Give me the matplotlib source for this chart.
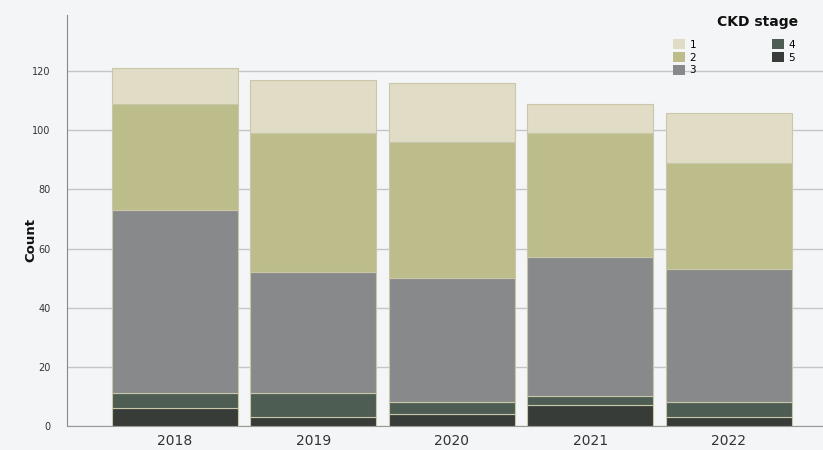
import matplotlib
matplotlib.use("Agg")
import matplotlib.pyplot as plt
import numpy as np

years = ["2018", "2019", "2020", "2021", "2022"]
stages = ["1", "2", "3", "4", "5"]
stage1 = [12, 18, 20, 10, 17]
stage2 = [36, 47, 46, 42, 36]
stage3 = [62, 41, 42, 47, 45]
stage4 = [5, 8, 4, 3, 5]
stage5 = [6, 3, 4, 7, 3]
y_ticks = [0, 20, 40, 60, 80, 100, 120]

colors = {"1": "#e0dcc6", "2": "#bcbd8b", "3": "#88898b", "4": "#4e5d54", "5": "#383c39"}
bg = "#f4f5f7"

fig = plt.figure(figsize=(8.23, 4.5), dpi=100, facecolor=bg)
ax = fig.add_axes([67/823, 1-426/450, (823-67)/823, (426-15)/450], facecolor=bg)

x = np.arange(len(years))
bottom = np.zeros(len(years))
series = {"5": stage5, "4": stage4, "3": stage3, "2": stage2, "1": stage1}
handles = {}
for s in ["5", "4", "3", "2", "1"]:
    vals = np.array(series[s], dtype=float)
    h = ax.bar(x, vals, bottom=bottom, width=0.91, color=colors[s],
               edgecolor="#c9c7a8", linewidth=0.8, zorder=3, label=s)
    handles[s] = h
    bottom += vals

ax.set_xlim(-0.78, 4.68)
ax.set_ylim(0, 139)
ax.set_yticks(y_ticks)
ax.set_yticklabels([str(v) for v in y_ticks], fontsize=7, color="#333333")
ax.set_xticks(x)
ax.set_xticklabels(years, fontsize=10, color="#333333")
ax.tick_params(axis="y", length=0, pad=12)
ax.tick_params(axis="x", length=0, pad=6)
ax.grid(axis="y", color="#c4c6c8", linewidth=1.0, zorder=0)
ax.set_axisbelow(True)
for sp in ["top", "right"]:
    ax.spines[sp].set_visible(False)
ax.spines["left"].set_color("#888888")
ax.spines["bottom"].set_color("#999999")
ax.set_ylabel("Count", fontsize=9.5, fontweight="bold", color="#111111")
ax.yaxis.set_label_coords((37 - 67) / (823 - 67), (426 - 240) / (426 - 15))

fig.text(758/823, 1-22/450, "CKD stage", fontsize=10, fontweight="bold",
         ha="center", va="center", color="#111111")
leg = ax.legend([handles[s] for s in stages], stages, ncol=2, frameon=False,
                fontsize=7.5, handlelength=1.15, handleheight=1.1, handletextpad=0.4,
                columnspacing=7.3, labelspacing=0.22, borderpad=0,
                loc="upper left", bbox_to_anchor=(668/823, 1-34/450),
                bbox_transform=fig.transFigure)
for p in leg.get_patches():
    p.set_edgecolor("none")

fig.savefig("out.png", dpi=100, facecolor=bg)
